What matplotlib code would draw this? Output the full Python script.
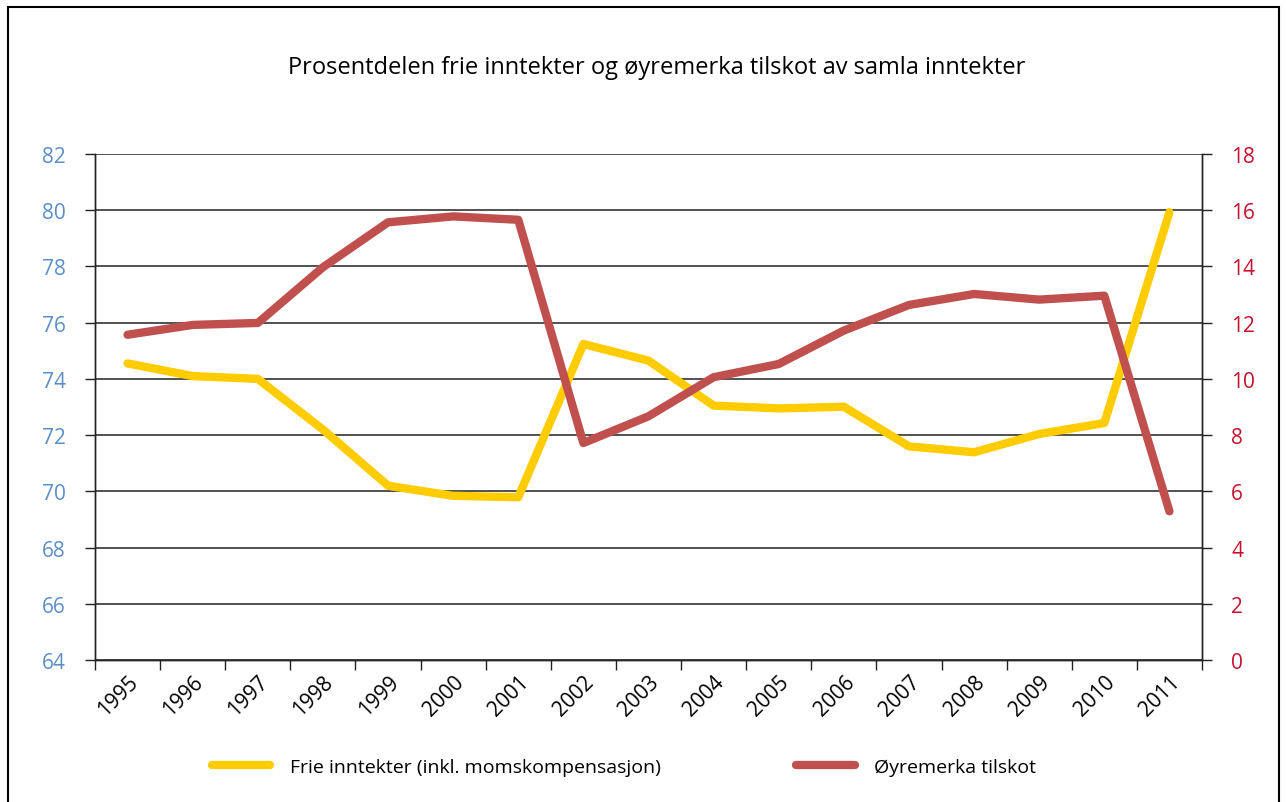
import numpy as np
import matplotlib
matplotlib.use("Agg")
import matplotlib.pyplot as plt
from matplotlib.patches import Rectangle

plt.rcParams['font.family'] = ['Open Sans', 'DejaVu Sans']

# data
years = [str(y) for y in range(1995, 2012)]
frie = [74.55, 74.1, 74.0, 72.2, 70.2, 69.84, 69.79, 75.24, 74.65,
        73.05, 72.95, 73.01, 71.6, 71.39, 72.04, 72.43, 79.93]
oyremerka = [11.57, 11.92, 11.99, 13.97, 15.57, 15.78, 15.66, 7.72, 8.67,
             10.06, 10.53, 11.72, 12.63, 13.02, 12.82, 12.96, 5.29]
left_ticks = list(range(64, 83, 2))
right_ticks = list(range(0, 19, 2))

YELLOW = '#FFCC00'
RED = '#C0504D'
BLUE = '#5B8FC9'
RED_TXT = '#C8102E'

fig = plt.figure(figsize=(12.86, 8.03), dpi=100)
fig.patches.append(Rectangle((8/1286, -0.01), (1279-8)/1286, 1 - 8/803 + 0.01,
                             transform=fig.transFigure, fill=False,
                             edgecolor='black', linewidth=1.5))

ax = fig.add_axes([95/1286, 1 - 661/803, (1202-95)/1286, (661-155)/803])
ax2 = ax.twinx()

x = np.arange(len(years))
ax.plot(x, frie, color=YELLOW, linewidth=6, solid_capstyle='round',
        solid_joinstyle='round', label='Frie inntekter (inkl. momskompensasjon)', zorder=3)
ax2.plot(x, oyremerka, color=RED, linewidth=6, solid_capstyle='round',
         solid_joinstyle='round', label='Øyremerka tilskot', zorder=3)

ax.set_xlim(-0.5, len(years) - 0.5)
ax.set_ylim(64, 82)
ax2.set_ylim(0, 18)
ax.set_yticks(left_ticks)
ax2.set_yticks(right_ticks)
ax.grid(axis='y', color='#333333', linewidth=1.2)
ax.set_axisbelow(True)

# x ticks at category boundaries, labels at centres
ax.set_xticks(np.arange(-0.5, len(years)), minor=False)
ax.set_xticklabels([])
ax.set_xticks(x, minor=True)
ax.set_xticklabels(years, minor=True, rotation=45, ha='right', va='top',
                   rotation_mode='anchor', fontsize=15)
ax.tick_params(axis='x', which='minor', length=0, pad=8)
ax.tick_params(axis='x', which='major', length=7, width=1, color='#222222')
ax.tick_params(axis='y', length=7, width=1, color='#222222', labelsize=15,
               labelcolor=BLUE, pad=14)
ax2.tick_params(axis='y', length=7, width=1, color='#222222', labelsize=15,
                labelcolor=RED_TXT, pad=14)

for a in (ax, ax2):
    a.spines['top'].set_visible(False)
    for s in ('left', 'right', 'bottom'):
        a.spines[s].set_color('#222222')
        a.spines[s].set_linewidth(1)

fig.text(657/1286, 1 - 68/803, 'Prosentdelen frie inntekter og øyremerka tilskot av samla inntekter',
         ha='center', va='center', fontsize=17)

h1, l1 = ax.get_legend_handles_labels()
h2, l2 = ax2.get_legend_handles_labels()
fig.legend(h1 + h2, l1 + l2, loc='center', bbox_to_anchor=(624/1286, 1 - 768/803),
           ncol=2, frameon=False, fontsize=14, handlelength=3.0,
           columnspacing=7.0, handletextpad=1.0)

fig.savefig('out.png', dpi=100)
